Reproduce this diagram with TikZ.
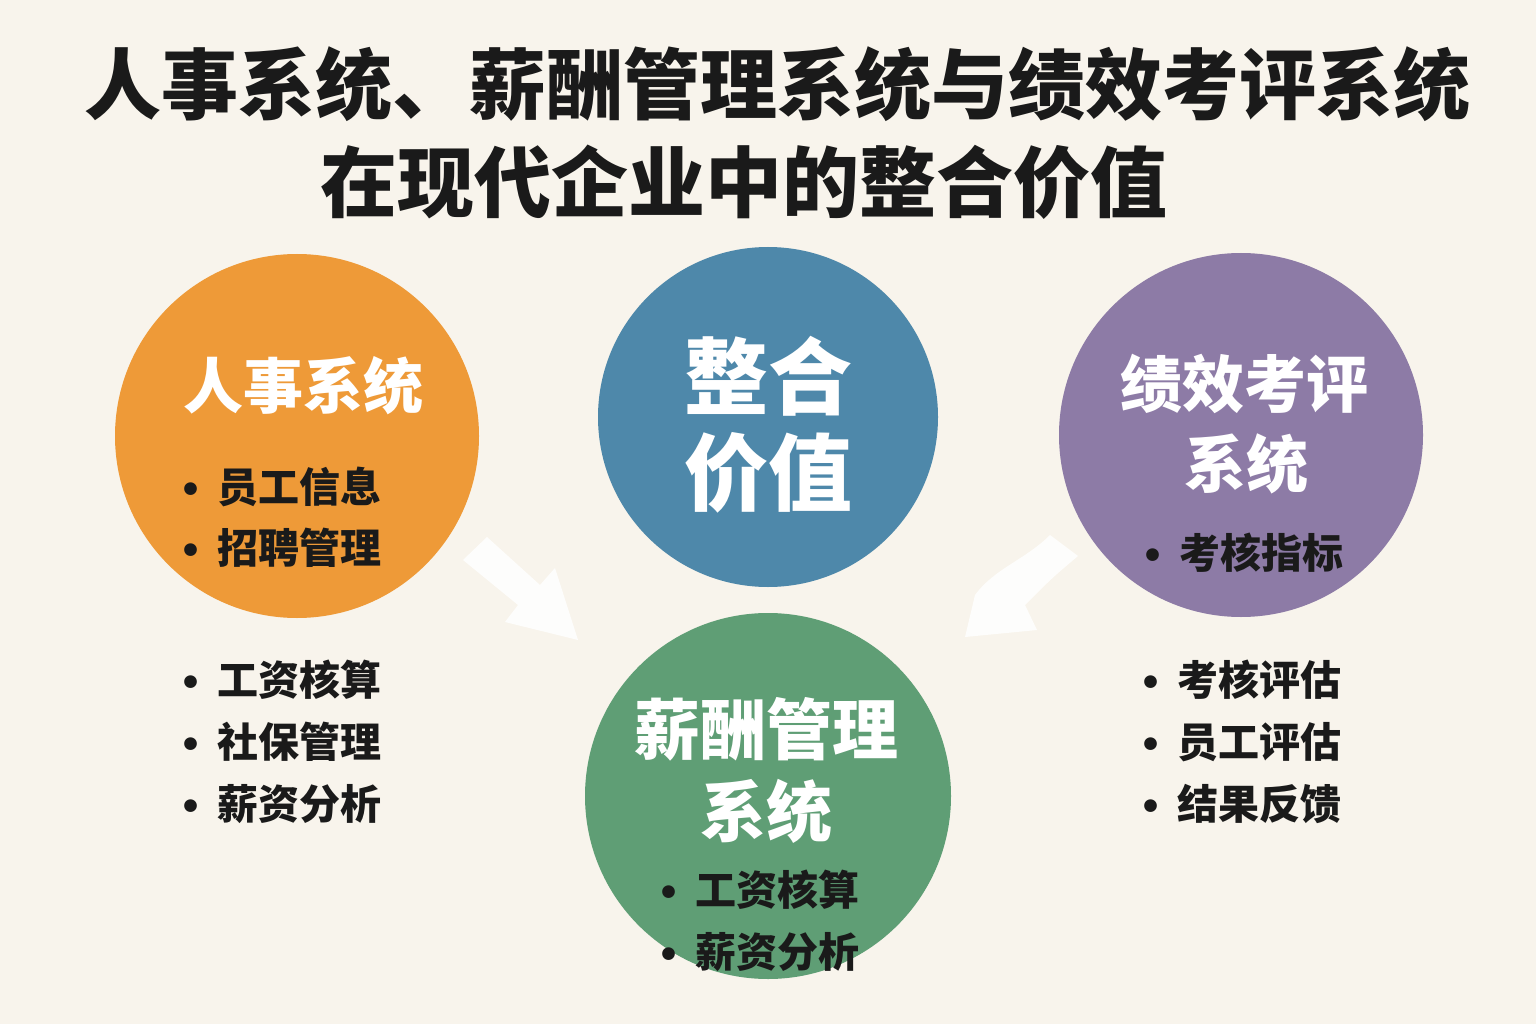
\documentclass[tikz,border=0pt]{standalone}
\usepackage{fontspec}
\setmainfont{Noto Sans CJK SC}
\newfontfamily\dejavu{DejaVu Sans}
\definecolor{bgc}{HTML}{F8F4EC}
\definecolor{orangeC}{HTML}{EE9A38}
\definecolor{blueC}{HTML}{4E88AA}
\definecolor{purpleC}{HTML}{8D7BA6}
\definecolor{greenC}{HTML}{5F9E75}
\definecolor{ink}{HTML}{1A1A1A}
\newcommand\bitem{{\dejavu\fontsize{36pt}{36pt}\selectfont •}\hspace{15pt}}
\tikzset{
  disc/.style={circle, inner sep=0pt, minimum size=#1},
  titletxt/.style={font=\bfseries\fontsize{77pt}{77pt}\selectfont, text=ink, inner sep=0pt},
  headtxt/.style={font=\bfseries\fontsize{#1}{#1}\selectfont, text=white, inner sep=0pt, align=center},
  bul/.style={anchor=west, font=\bfseries\fontsize{41pt}{41pt}\selectfont, text=ink, inner sep=0pt},
  bigarrow/.style={fill=white, fill opacity=0.85, draw=none}
}
\begin{document}
\begin{tikzpicture}[x=1pt,y=-1pt]
\fill[bgc] (0,0) rectangle (1536,1024);
\useasboundingbox (0,0) rectangle (1536,1024);

% title
\node[titletxt, xscale=1.0] (t1) at (777,84) {人事系统、薪酬管理系统与绩效考评系统};
\node[titletxt] (t2) at (744,182) {在现代企业中的整合价值};

% circles
\node[disc=364pt, fill=orangeC] (hr) at (297,436) {};
\node[disc=340pt, fill=blueC] (iv) at (768,417) {};
\node[disc=364pt, fill=purpleC] (pf) at (1241,435) {};
\node[disc=366pt, fill=greenC] (pay) at (768,796) {};

% arrows
\path[bigarrow] (463,560) -- (487,537) -- (540,585) -- (555,568) -- (578,640) -- (505,622) -- (518,605) -- cycle;
\path[bigarrow] (1050,535) -- (1078,556) .. controls (1052,578) .. (1025,605) -- (1037,630) -- (965,637) -- (975,595) .. controls (995,568) and (1025,560) .. (1050,535);

% circle headings
\node[headtxt=60pt] (hrh) at (303,386) {人事系统};
\node[headtxt=84pt] (ivh1) at (768,376) {整合};
\node[headtxt=84pt] (ivh2) at (768,473) {价值};
\node[headtxt=62pt] (pfh1) at (1244,384) {绩效考评};
\node[headtxt=62pt] (pfh2) at (1246,464) {系统};
\node[headtxt=66pt] (payh1) at (766,729) {薪酬管理};
\node[headtxt=66pt] (payh2) at (766,811) {系统};

% bullets inside circles
\node[bul] (hr1) at (179,487) {\bitem 员工信息};
\node[bul] (hr2) at (179,548) {\bitem 招聘管理};
\node[bul] (pf1) at (1141,553) {\bitem 考核指标};
\node[bul] (pay1) at (657,890) {\bitem 工资核算};
\node[bul] (pay2) at (657,952) {\bitem 薪资分析};

% bullets outside
\node[bul] (l1) at (179,680) {\bitem 工资核算};
\node[bul] (l2) at (179,742) {\bitem 社保管理};
\node[bul] (l3) at (179,804) {\bitem 薪资分析};
\node[bul] (r1) at (1139,680) {\bitem 考核评估};
\node[bul] (r2) at (1139,742) {\bitem 员工评估};
\node[bul] (r3) at (1139,804) {\bitem 结果反馈};
\end{tikzpicture}
\end{document}
